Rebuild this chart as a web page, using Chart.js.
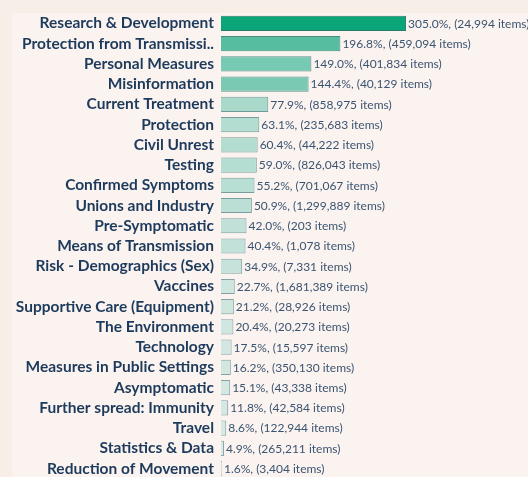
<!DOCTYPE html>
<html>
<head>
<meta charset="utf-8">
<script src="https://cdn.jsdelivr.net/npm/chart.js@4/dist/chart.umd.min.js"></script>
<style>
  html, body { margin: 0; padding: 0; background: #f8eee8; overflow: hidden; }
  #panel { position: absolute; left: 12px; top: 13px; width: 516px; height: 464px; background: #faf3ef; }
  #wrap { position: absolute; left: 0; top: -3px; width: 528px; height: 498px; }
</style>
</head>
<body>
<div id="panel"></div>
<div id="wrap"><canvas id="chart"></canvas></div>
<script>
// Data
const categories = [
  'Research & Development', 'Protection from Transmissi..', 'Personal Measures', 'Misinformation',
  'Current Treatment', 'Protection', 'Civil Unrest', 'Testing', 'Confirmed Symptoms',
  'Unions and Industry', 'Pre-Symptomatic', 'Means of Transmission', 'Risk - Demographics (Sex)',
  'Vaccines', 'Supportive Care (Equipment)', 'The Environment', 'Technology',
  'Measures in Public Settings', 'Asymptomatic', 'Further spread: Immunity', 'Travel',
  'Statistics & Data', 'Reduction of Movement'
];
const pctValues = [305.0, 196.8, 149.0, 144.4, 77.9, 63.1, 60.4, 59.0, 55.2, 50.9, 42.0, 40.4, 34.9,
  22.7, 21.2, 20.4, 17.5, 16.2, 15.1, 11.8, 8.6, 4.9, 1.6];
const itemCounts = [24994, 459094, 401834, 40129, 858975, 235683, 44222, 826043, 701067, 1299889, 203,
  1078, 7331, 1681389, 28926, 20273, 15597, 350130, 43338, 42584, 122944, 265211, 3404];

// colour ramp from light to dark teal by value
const mix = (a, b, t) => a.map((v, i) => Math.round(v + (b[i] - v) * t));
const rgb = c => `rgb(${c[0]},${c[1]},${c[2]})`;
const maxVal = Math.max(...pctValues);
const fills = pctValues.map(v => rgb(mix([222, 235, 231], [10, 166, 122], v / maxVal)));
const borders = pctValues.map(v => rgb(mix([140, 164, 170], [40, 125, 105], v / maxVal)));

// value labels next to each bar
const valueLabels = {
  id: 'valueLabels',
  afterDatasetsDraw(chart) {
    const { ctx } = chart;
    const meta = chart.getDatasetMeta(0);
    ctx.save();
    ctx.font = '12px Lato';
    ctx.fillStyle = '#3b5471';
    ctx.textBaseline = 'middle';
    meta.data.forEach((bar, i) => {
      const txt = pctValues[i].toFixed(1) + '%, (' + itemCounts[i].toLocaleString('en-US') + ' items)';
      ctx.fillText(txt, bar.x + 2, bar.y + 0.5);
    });
    ctx.restore();
  }
};

new Chart(document.getElementById('chart'), {
  type: 'bar',
  data: {
    labels: categories,
    datasets: [{
      data: pctValues,
      backgroundColor: fills,
      borderColor: borders,
      borderWidth: 1,
      barPercentage: 0.75,
      categoryPercentage: 1
    }]
  },
  options: {
    indexAxis: 'y',
    responsive: true,
    maintainAspectRatio: false,
    animation: false,
    layout: { padding: 0 },
    plugins: { legend: { display: false }, tooltip: { enabled: false } },
    scales: {
      x: { display: false, min: 0, max: 506 },
      y: {
        grid: { display: false, drawTicks: false },
        border: { display: false },
        afterFit: s => { s.width = 221; },
        ticks: {
          autoSkip: false,
          padding: 7,
          color: '#1d3a5c',
          font: { family: 'Lato', size: 15.5, weight: 'bold' }
        }
      }
    }
  },
  plugins: [valueLabels]
});
</script>
</body>
</html>
